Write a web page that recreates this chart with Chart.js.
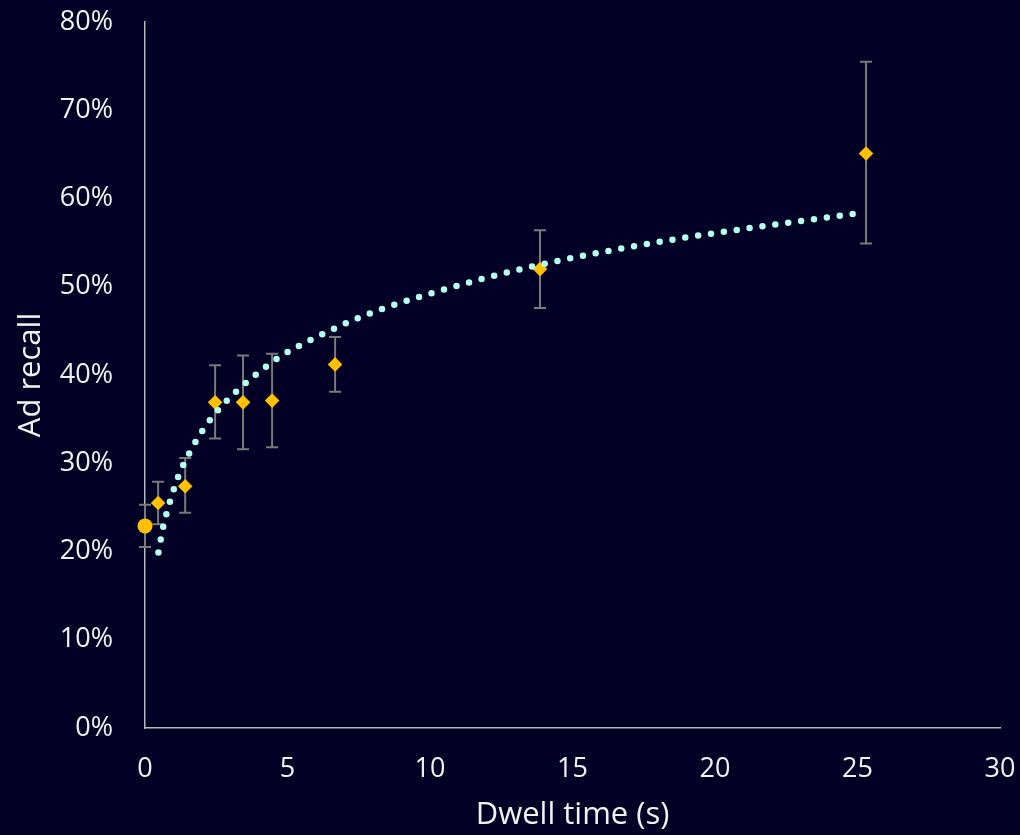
<!DOCTYPE html>
<html>
<head>
<meta charset="utf-8">
<script src="https://cdn.jsdelivr.net/npm/chart.js@4/dist/chart.umd.min.js"></script>
<style>
	body { margin: 0; background: #020024; }
	#wrap { width: 1020px; height: 835px; }
</style>
</head>
<body>
<div id="wrap"><canvas id="chart_recall" width="1020" height="835"></canvas></div>
<script>
// mätpunkter (sekunder, % ad recall)
var dwell = [0, 0.46, 1.41, 2.46, 3.44, 4.46, 6.67, 13.86, 25.3];
var recall = [22.9, 25.5, 27.4, 36.9, 36.9, 37.1, 41.2, 52.0, 65.1];
var err_low = [20.5, 23.1, 24.4, 32.8, 31.6, 31.8, 38.1, 47.6, 54.9];
var err_high = [25.3, 27.9, 30.6, 41.1, 42.2, 42.4, 44.3, 56.4, 75.5];

// trendlinje
var trend_x = [0.47, 0.64, 0.88, 1.18, 1.58, 2.06, 2.64, 3.29, 3.99, 4.75, 5.96, 7.22, 8.51, 10.29, 12.07, 13.86, 16.16, 18.82, 21.1, 23.8, 25.2];
var trend_y = [19.9, 22.8, 25.7, 28.6, 31.3, 33.9, 36.3, 38.4, 40.3, 42.1, 44.2, 46.1, 47.7, 49.5, 51.1, 52.5, 54.0, 55.5, 56.6, 57.8, 58.4];

var x_ticks = [0, 5, 10, 15, 20, 25, 30];
var y_ticks = [0, 10, 20, 30, 40, 50, 60, 70, 80];

var text_color = "#f2f2f2";
var font_family = "'Open Sans', 'Noto Sans', sans-serif";

/**
 * Ritar felstaplar under punkterna
 */
var error_bars = {
	id: "error_bars",
	beforeDatasetsDraw: function(chart)
	{
		var ctx = chart.ctx;
		var xs = chart.scales.x;
		var ys = chart.scales.y;
		ctx.save();
		ctx.strokeStyle = "#7a7a7a";
		ctx.lineWidth = 2;
		for(var i = 0; i < dwell.length; i++)
		{
			var px = xs.getPixelForValue(dwell[i]);
			var top = ys.getPixelForValue(err_high[i]);
			var bot = ys.getPixelForValue(err_low[i]);
			ctx.beginPath();
			ctx.moveTo(px, top);
			ctx.lineTo(px, bot);
			ctx.moveTo(px - 6, top);
			ctx.lineTo(px + 6, top);
			ctx.moveTo(px - 6, bot);
			ctx.lineTo(px + 6, bot);
			ctx.stroke();
		}
		ctx.restore();
	}
};

var points = dwell.map(function(d, i){ return { x: d, y: recall[i] }; });
var trend = trend_x.map(function(d, i){ return { x: d, y: trend_y[i] }; });

var params = {
	type: "scatter",
	data: {
		datasets: [
			{
				data: trend,
				showLine: true,
				borderColor: "#b3fff0",
				borderWidth: 6.5,
				borderDash: [0, 13],
				borderCapStyle: "round",
				cubicInterpolationMode: "monotone",
				pointRadius: 0,
				clip: false
			},
			{
				data: points,
				backgroundColor: "#ffc000",
				borderColor: "#ffc000",
				borderWidth: 0,
				pointStyle: dwell.map(function(d, i){ return i == 0 ? "circle" : "rectRot"; }),
				pointRadius: dwell.map(function(d, i){ return i == 0 ? 7.5 : 7.3; }),
				clip: false
			}
		]
	},
	options: {
		responsive: false,
		animation: false,
		layout: { padding: { top: 22, right: 20, bottom: 0, left: 0 } },
		plugins: {
			legend: { display: false },
			tooltip: { enabled: false }
		},
		scales: {
			x: {
				type: "linear",
				min: 0,
				max: 30,
				afterBuildTicks: function(s){ s.ticks = x_ticks.map(function(v){ return { value: v }; }); },
				afterFit: function(s){ s.height = 107; s.paddingLeft = 0; s.paddingRight = 0; },
				grid: { display: false, drawTicks: false },
				border: { display: true, color: "#b8b8b8", width: 1.5 },
				ticks: {
					color: text_color,
					font: { family: font_family, size: 27 },
					padding: 25,
					maxRotation: 0
				},
				title: {
					display: true,
					text: "Dwell time (s)",
					color: text_color,
					font: { family: font_family, size: 31 },
					padding: { top: 0, bottom: 1 }
				}
			},
			y: {
				type: "linear",
				min: 0,
				max: 80,
				afterBuildTicks: function(s){ s.ticks = y_ticks.map(function(v){ return { value: v }; }); },
				afterFit: function(s){ s.width = 145; s.paddingTop = 0; s.paddingBottom = 0; },
				grid: { display: false, drawTicks: false },
				border: { display: true, color: "#b8b8b8", width: 1.5 },
				ticks: {
					color: text_color,
					font: { family: font_family, size: 27 },
					padding: 32,
					callback: function(v){ return v + "%"; }
				},
				title: {
					display: true,
					text: "Ad recall",
					color: text_color,
					font: { family: font_family, size: 31 },
					padding: { top: 13, bottom: 0 }
				}
			}
		}
	},
	plugins: [error_bars]
};
new Chart(document.getElementById("chart_recall"), params);
</script>
</body>
</html>
